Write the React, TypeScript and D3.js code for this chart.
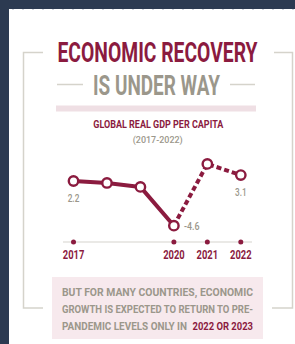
import React from "react";
import * as d3 from "d3";

// chart data
const years = [2017, 2018, 2019, 2020, 2021, 2022];
const gdpGrowth = [2.2, 1.9, 1.3, -4.6, 4.8, 3.1];
const axisYears = [2017, 2020, 2021, 2022];
const labeledYears = [2017, 2020, 2022];
const projectionStart = 2020;

const titleLines = ["ECONOMIC RECOVERY", "IS UNDER WAY"];
const chartTitle = "GLOBAL REAL GDP PER CAPITA";
const chartPeriod = "(2017-2022)";
const noteLines = [
  "BUT FOR MANY COUNTRIES, ECONOMIC",
  "GROWTH IS EXPECTED TO RETURN TO PRE-",
  "PANDEMIC LEVELS ONLY IN",
];
const noteHighlight = "2022 OR 2023";

const NAVY = "#2c3a51";
const CRIMSON = "#8b1b3f";
const GRAY = "#9b978b";
const FRAME = "#d5d3cb";
const FONT = "Roboto, 'Open Sans', sans-serif";

const W = 295;
const H = 344;

// condensed text: squeezed horizontally, then fitted to an exact width
type CondProps = {
  x: number;
  y: number;
  width: number;
  sx: number;
  size: number;
  fill: string;
  weight?: number;
  anchor?: "start" | "middle";
  children: React.ReactNode;
};

const CondText = ({ x, y, width, sx, size, fill, weight = 700, anchor = "start", children }: CondProps) => (
  <text
    transform={`translate(${x},${y}) scale(${sx},1)`}
    fill={fill}
    fontSize={size}
    fontWeight={weight}
    textAnchor={anchor}
    textLength={width / sx}
    lengthAdjust="spacingAndGlyphs"
  >
    {children}
  </text>
);

const App: React.FC = () => {
  const x = d3.scaleLinear().domain([2017, 2022]).range([73.5, 240.8]);
  const y = d3.scaleLinear().domain([-4.6, 2.2]).range([225.7, 181]);

  const points = years.map((yr, i) => ({ year: yr, value: gdpGrowth[i] }));
  const line = d3
    .line<{ year: number; value: number }>()
    .x((d) => x(d.year))
    .y((d) => y(d.value));

  const actual = points.filter((d) => d.year <= projectionStart);
  const projected = points.filter((d) => d.year >= projectionStart);
  const minValue = d3.min(gdpGrowth) as number;

  const axisY = 242;

  return (
    <svg
      width={W}
      height={H}
      style={{ position: "absolute", left: 0, top: 0 }}
      fontFamily={FONT}
    >
      <rect x={0} y={0} width={W} height={H} fill={NAVY} />
      <rect x={9} y={9} width={W - 9} height={H - 9} fill="#ffffff" />
      <line
        x1={12}
        x2={W}
        y1={9.5}
        y2={9.5}
        stroke="#cfd4dc"
        strokeWidth={1}
        strokeDasharray="2 8"
      />

      {/* bracket frame */}
      <path d="M43,52.5 H23.5 V308 H43" fill="none" stroke={FRAME} strokeWidth={1.5} />
      <path d="M274,52.5 H292.5 V308 H272" fill="none" stroke={FRAME} strokeWidth={1.5} />

      {/* headline */}
      <CondText x={57.5} y={61.5} width={200} sx={0.74} size={27} fill={CRIMSON}>
        {titleLines[0]}
      </CondText>
      <CondText x={93} y={95} width={127} sx={0.74} size={27.5} fill={GRAY}>
        {titleLines[1]}
      </CondText>
      <line x1={57} x2={83} y1={84.5} y2={84.5} stroke={FRAME} strokeWidth={1.5} />
      <line x1={230} x2={255} y1={84.5} y2={84.5} stroke={FRAME} strokeWidth={1.5} />
      <rect x={56} y={105.5} width={200} height={6} fill="#efdfe4" />

      {/* chart title */}
      <CondText x={93.3} y={128.3} width={130} sx={0.72} size={11.8} fill={CRIMSON}>
        {chartTitle}
      </CondText>
      <CondText x={132.7} y={143.3} width={50} sx={0.8} size={9.6} weight={500} fill={GRAY}>
        {chartPeriod}
      </CondText>

      {/* axis */}
      <line x1={63} x2={252} y1={axisY} y2={axisY} stroke="#d6d4cd" strokeWidth={1.2} />
      {axisYears.map((yr) => (
        <g key={yr}>
          <circle cx={x(yr)} cy={axisY} r={2.5} fill={CRIMSON} />
          <CondText x={x(yr)} y={259} width={21.5} sx={0.75} size={12.8} fill={CRIMSON} anchor="middle">
            {yr}
          </CondText>
        </g>
      ))}

      {/* lines */}
      <path
        d={line(actual) ?? ""}
        fill="none"
        stroke={CRIMSON}
        strokeWidth={4}
        strokeLinejoin="round"
      />
      <path
        d={line(projected) ?? ""}
        fill="none"
        stroke={CRIMSON}
        strokeWidth={4}
        strokeDasharray="5 3"
      />
      {points.map((d) => (
        <circle
          key={d.year}
          cx={x(d.year)}
          cy={y(d.value)}
          r={4.7}
          fill="#ffffff"
          stroke={CRIMSON}
          strokeWidth={2.4}
        />
      ))}

      {/* value labels */}
      {points
        .filter((d) => labeledYears.includes(d.year))
        .map((d) => {
          const txt = d3.format(".1f")(d.value).replace("\u2212", "-");
          const isMin = d.value === minValue;
          return (
            <CondText
              key={d.year}
              x={isMin ? x(d.year) + 10 : x(d.year)}
              y={isMin ? y(d.value) + 4.5 : y(d.value) + 21}
              width={txt.length * 3.9}
              sx={0.75}
              size={11.8}
              weight={500}
              fill={GRAY}
              anchor={isMin ? "start" : "middle"}
            >
              {txt}
            </CondText>
          );
        })}

      {/* note box */}
      <rect x={52} y={277} width={211} height={62} fill="#f7e9ed" />
      {noteLines.map((t, i) => (
        <CondText
          key={i}
          x={62}
          y={296 + i * 17}
          width={i < 2 ? 191 : 125}
          sx={0.82}
          size={11.5}
          fill={GRAY}
        >
          {t}
        </CondText>
      ))}
      <CondText x={192.5} y={330} width={60.5} sx={0.82} size={11.5} fill={CRIMSON}>
        {noteHighlight}
      </CondText>
    </svg>
  );
};

export default App;
